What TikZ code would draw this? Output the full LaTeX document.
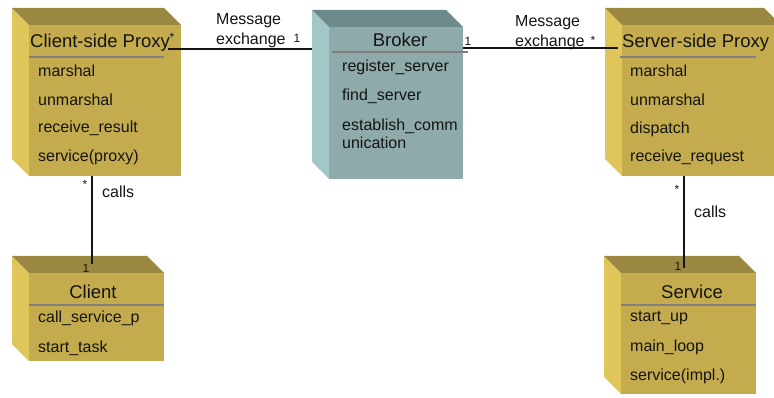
\documentclass[tikz,border=0pt]{standalone}
\usepackage{fontspec}
\setmainfont{Liberation Sans}
\usetikzlibrary{calc}

% face colours of the solid class boxes
\definecolor{goldfront}{RGB}{196,172,78}
\definecolor{goldleft}{RGB}{224,197,90}
\definecolor{goldtop}{RGB}{154,135,64}
\definecolor{tealfront}{RGB}{143,170,170}
\definecolor{tealleft}{RGB}{163,198,200}
\definecolor{tealtop}{RGB}{110,139,139}
\definecolor{rulegray}{RGB}{128,128,128}
\definecolor{ink}{RGB}{20,20,20}

% #1 name, #2 colour prefix, #3 left, #4 top, #5 right, #6 bottom (front face)
\newcommand\solidbox[6]{%
  \node[fill=#2front, draw=none, inner sep=0pt, outer sep=0pt,
        minimum width={(#5-(#3))*1pt}, minimum height={(#6-(#4))*1pt},
        anchor=north west] (#1) at (#3,-#4) {};
  \fill[#2left] (#1.north west) -- ++(-17,17) -- ($(#1.south west)+(-17,17)$)
        -- (#1.south west) -- cycle;
  \fill[#2top] (#1.north west) -- ++(-17,17) -- ($(#1.north east)+(-17,17)$)
        -- (#1.north east) -- cycle;
}

\tikzset{
  title/.style={inner sep=0pt, text=ink, font=\fontsize{18.5}{21}\selectfont},
  item/.style={inner sep=0pt, anchor=west, text=ink, font=\fontsize{16}{18}\selectfont},
  lbl/.style={inner sep=0pt, anchor=west, text=ink, font=\fontsize{16}{18.5}\selectfont},
  mult/.style={inner sep=0pt, text=ink, font=\fontsize{12}{13}\selectfont},
  titlerule/.style={rulegray, line width=1.2pt},
  assoc/.style={ink, line width=1.3pt},
}

\begin{document}
\begin{tikzpicture}[x=1pt, y=1pt]
\useasboundingbox (0,0) rectangle (774,-398);
\clip (0,0) rectangle (774,-398);

% class boxes
\solidbox{csp}{gold}{29}{25}{181}{176}
\solidbox{broker}{teal}{329}{27}{463}{179}
\solidbox{ssp}{gold}{622}{25}{781}{176}
\solidbox{client}{gold}{29}{273}{164}{361}
\solidbox{service}{gold}{621}{273}{756}{394}

% Client-side Proxy
\node[title, anchor=west] (csptitle) at (30,-43) {Client-side Proxy};
\draw[titlerule] (29,-57) -- (164,-57);
\node[item] (csp1) at (38,-71) {marshal};
\node[item] (csp2) at (38,-100) {unmarshal};
\node[item] (csp3) at (38,-128) {receive\_result};
\node[item] (csp4) at (38,-157) {service(proxy)};

% Broker
\node[title] (brokertitle) at (400,-40) {Broker};
\draw[titlerule] (332,-52) -- (468,-52);
\node[item] (br1) at (342,-67) {register\_server};
\node[item] (br2) at (342,-96) {find\_server};
\node[item, align=left] (br3) at (342,-134) {establish\_comm\\unication};

% Server-side Proxy
\node[title, anchor=west] (ssptitle) at (622,-43) {Server-side Proxy};
\draw[titlerule] (620,-57) -- (756,-57);
\node[item] (ssp1) at (630,-71) {marshal};
\node[item] (ssp2) at (630,-100) {unmarshal};
\node[item] (ssp3) at (630,-129) {dispatch};
\node[item] (ssp4) at (630,-157) {receive\_request};

% Client
\node[title] (clienttitle) at (93,-292) {Client};
\draw[titlerule] (29,-305) -- (164,-305);
\node[item] (cl1) at (38,-318) {call\_service\_p};
\node[item] (cl2) at (38,-348) {start\_task};

% Service
\node[title] (servicetitle) at (692,-292) {Service};
\draw[titlerule] (621,-305) -- (756,-305);
\node[item] (sv1) at (630,-318) {start\_up};
\node[item] (sv2) at (630,-347) {main\_loop};
\node[item] (sv3) at (630,-376) {service(impl.)};

% association end points
\coordinate (cspR) at (168,-49);
\coordinate (brL) at (312,-49);
\coordinate (brR) at (463,-48);
\coordinate (sspL) at (618,-48);
\coordinate (cspB) at (92,-176);
\coordinate (clT) at (92,-264);
\coordinate (sspB) at (684,-176);
\coordinate (svT) at (684,-268);

% associations
\draw[assoc] (cspR) -- (brL);
\draw[assoc] (brR) -- (sspL);
\draw[assoc] (cspB) -- (clT);
\draw[assoc] (sspB) -- (svT);

% association labels
\node[lbl] (msgL1) at (216,-21) {Message};
\node[lbl] (msgL2) at (216,-40) {exchange};
\node[mult] (mL1) at (297,-38) {1};
\node[mult] (mL2) at (172,-37) {*};
\node[mult] (mR1) at (468,-41) {1};
\node[lbl] (msgR1) at (515,-23) {Message};
\node[lbl] (msgR2) at (515,-42) {exchange};
\node[mult] (mR2) at (593,-40) {*};

\node[mult] (cL1) at (85,-184) {*};
\node[lbl] (callsL) at (102,-192) {calls};
\node[mult] (cL2) at (86,-268) {1};

\node[mult] (cR1) at (677,-189) {*};
\node[lbl] (callsR) at (694,-212) {calls};
\node[mult] (cR2) at (678,-266) {1};
\end{tikzpicture}
\end{document}
